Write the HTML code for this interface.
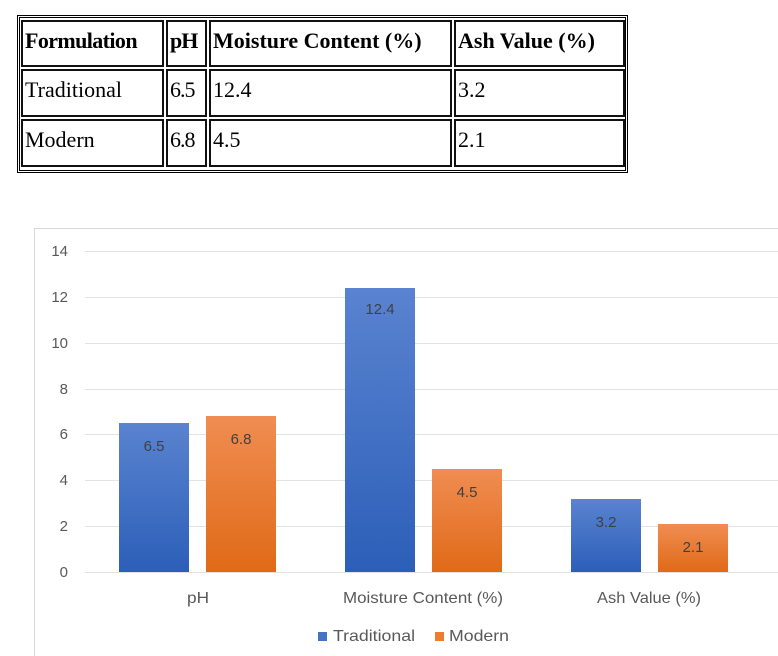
<!DOCTYPE html>
<html><head><style>
body{margin:0;width:778px;height:656px;background:#fff;position:relative;overflow:hidden;font-family:"Liberation Sans",sans-serif}
.tbl{position:absolute;left:17px;top:15px;width:603px;height:150px;border:3px double #000;padding:1px}
.c{position:absolute;border:2px solid #111;box-sizing:border-box;font-family:"Liberation Serif",serif;font-size:22px;line-height:1;padding:8px 0 0 2px;color:#000;white-space:nowrap}
.h{font-weight:bold}
</style></head><body>
<div class="tbl"></div>
<div class="c h" style="left:21px;top:20px;width:143px;height:47px;letter-spacing:-0.6px">Formulation</div>
<div class="c h" style="left:166px;top:20px;width:41px;height:47px;letter-spacing:-1px">pH</div>
<div class="c h" style="left:209px;top:20px;width:243px;height:47px">Moisture Content (%)</div>
<div class="c h" style="left:454px;top:20px;width:171px;height:47px">Ash Value (%)</div>
<div class="c" style="left:21px;top:69px;width:143px;height:48px">Traditional</div>
<div class="c" style="left:166px;top:69px;width:41px;height:48px;letter-spacing:-1px">6.5</div>
<div class="c" style="left:209px;top:69px;width:243px;height:48px">12.4</div>
<div class="c" style="left:454px;top:69px;width:171px;height:48px">3.2</div>
<div class="c" style="left:21px;top:119px;width:143px;height:48px">Modern</div>
<div class="c" style="left:166px;top:119px;width:41px;height:48px;letter-spacing:-1px">6.8</div>
<div class="c" style="left:209px;top:119px;width:243px;height:48px">4.5</div>
<div class="c" style="left:454px;top:119px;width:171px;height:48px">2.1</div>

<svg style="position:absolute;left:0;top:0" width="778" height="656">
<defs>
<linearGradient id="b" x1="0" y1="0" x2="0" y2="1"><stop offset="0" stop-color="#5a83d0"/><stop offset="1" stop-color="#2c5fb8"/></linearGradient>
<linearGradient id="o" x1="0" y1="0" x2="0" y2="1"><stop offset="0" stop-color="#f08d52"/><stop offset="1" stop-color="#e06a17"/></linearGradient>
</defs>
<rect x="34.5" y="228.5" width="760" height="440" fill="#fff" stroke="#d9d9d9"/>
<g stroke="#e3e3e3" stroke-width="1">
<line x1="85" x2="778" y1="251.5" y2="251.5"/><line x1="85" x2="778" y1="297.5" y2="297.5"/>
<line x1="85" x2="778" y1="343.5" y2="343.5"/><line x1="85" x2="778" y1="389.5" y2="389.5"/>
<line x1="85" x2="778" y1="434.5" y2="434.5"/><line x1="85" x2="778" y1="480.5" y2="480.5"/>
<line x1="85" x2="778" y1="526.5" y2="526.5"/><line x1="85" x2="778" y1="572.5" y2="572.5"/>
</g>
<g font-size="15" fill="#595959" text-anchor="end" font-family="Liberation Sans,sans-serif">
<text x="68" y="256">14</text><text x="68" y="302">12</text><text x="68" y="348">10</text>
<text x="68" y="394">8</text><text x="68" y="439">6</text><text x="68" y="485">4</text>
<text x="68" y="531">2</text><text x="68" y="577">0</text>
</g>
<rect x="119" y="423" width="70" height="149" fill="url(#b)"/>
<rect x="206" y="416" width="70" height="156" fill="url(#o)"/>
<rect x="345" y="288" width="70" height="284" fill="url(#b)"/>
<rect x="432" y="469" width="70" height="103" fill="url(#o)"/>
<rect x="571" y="499" width="70" height="73" fill="url(#b)"/>
<rect x="658" y="524" width="70" height="48" fill="url(#o)"/>
<g font-size="15" fill="#404040" text-anchor="middle" font-family="Liberation Sans,sans-serif">
<text x="154" y="451">6.5</text><text x="241" y="444">6.8</text>
<text x="380" y="314">12.4</text><text x="467" y="497">4.5</text>
<text x="606" y="527">3.2</text><text x="693" y="552">2.1</text>
</g>
<g font-size="16" fill="#595959" font-family="Liberation Sans,sans-serif">
<text x="187" y="603" textLength="22" lengthAdjust="spacingAndGlyphs">pH</text>
<text x="343" y="603" textLength="160" lengthAdjust="spacingAndGlyphs">Moisture Content (%)</text>
<text x="597" y="603" textLength="104" lengthAdjust="spacingAndGlyphs">Ash Value (%)</text>
<rect x="318" y="632" width="9" height="9" fill="#4472c4"/><text x="333" y="641" textLength="82" lengthAdjust="spacingAndGlyphs">Traditional</text>
<rect x="435" y="632" width="9" height="9" fill="#ed7d31"/><text x="449" y="641" textLength="60" lengthAdjust="spacingAndGlyphs">Modern</text>
</g>
</svg>
</body></html>
